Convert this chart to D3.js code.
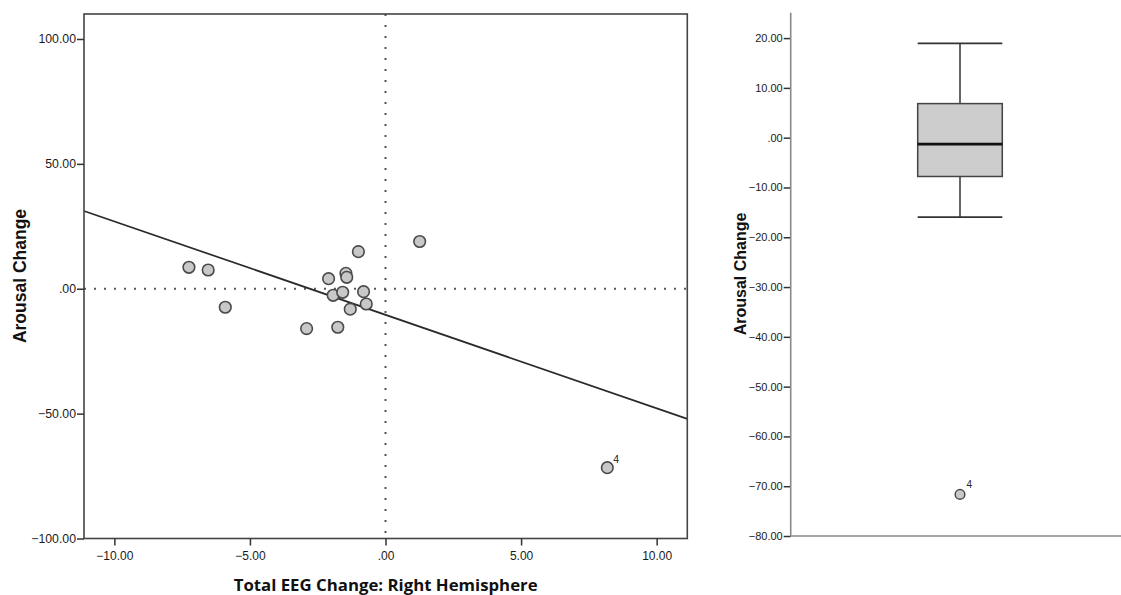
<!DOCTYPE html>
<html>
<head>
<meta charset="utf-8">
<script src="https://cdn.jsdelivr.net/npm/d3@7"></script>
<style>
  html, body { margin: 0; padding: 0; background: #fff; }
  svg { display: block; }
  .tick text { font-family: 'Liberation Sans', Arial, sans-serif; fill: #1a1a1a; }
  .tick line { stroke: #333; stroke-width: 1.5; }
  .domain { display: none; }
</style>
</head>
<body>
<div class="visualization"></div>
<script>
'use strict'
// Total EEG change (right hemisphere) and arousal change, one entry per case
var eegChange = [-7.25, -6.54, -5.91, -2.91, -2.10, -1.93, -1.76, -1.58, -1.46, -1.43, -1.30, -1.00, -0.81, -0.71, 1.26, 8.18]
var arousalChange = [8.59, 7.51, -7.42, -15.96, 4.02, -2.62, -15.42, -1.42, 6.18, 4.58, -8.17, 14.85, -1.18, -6.11, 18.92, -71.65]
var caseLabels = ['', '', '', '', '', '', '', '', '', '', '', '', '', '', '', '4']

var scatterXTicks = [-10, -5, 0, 5, 10]
var scatterYTicks = [-100, -50, 0, 50, 100]
var boxYTicks = [-80, -70, -60, -50, -40, -30, -20, -10, 0, 10, 20]

var width = 1121
var height = 595

// SPSS style labels: .00, -50.00
var fmt = function (v) {
  return d3.format('.2f')(v).replace(/^(-?)0\./, '$1.')
}

var svg = d3.select('.visualization').append('svg')
  .attr('width', width)
  .attr('height', height)

var points = eegChange.map(function (x, i) {
  return { x: x, y: arousalChange[i], label: caseLabels[i] }
})

// ---------- scatter ----------
var x = d3.scaleLinear().domain([-11.12, 11.13]).range([84, 687.3])
var y = d3.scaleLinear().domain([-100, 110]).range([538.5, 14])

var plot = svg.append('g')

// reference lines at zero
plot.append('line')
  .attr('x1', x.range()[0]).attr('x2', x.range()[1])
  .attr('y1', y(0)).attr('y2', y(0))
  .attr('stroke', '#555').attr('stroke-width', 2)
  .attr('stroke-dasharray', '2,8')
plot.append('line')
  .attr('x1', x(0)).attr('x2', x(0))
  .attr('y1', y.range()[1]).attr('y2', y.range()[0])
  .attr('stroke', '#555').attr('stroke-width', 2)
  .attr('stroke-dasharray', '2,9')

// least squares fit line
var mx = d3.mean(points, function (d) { return d.x })
var my = d3.mean(points, function (d) { return d.y })
var sxy = d3.sum(points, function (d) { return (d.x - mx) * (d.y - my) })
var sxx = d3.sum(points, function (d) { return (d.x - mx) * (d.x - mx) })
var slope = sxy / sxx
var intercept = my - slope * mx
var xd = x.domain()
plot.append('line')
  .attr('x1', x(xd[0])).attr('y1', y(intercept + slope * xd[0]))
  .attr('x2', x(xd[1])).attr('y2', y(intercept + slope * xd[1]))
  .attr('stroke', '#2a2a2a').attr('stroke-width', 1.7)

plot.append('g').selectAll('circle')
  .data(points)
  .enter().append('circle')
  .attr('cx', function (d) { return x(d.x) })
  .attr('cy', function (d) { return y(d.y) })
  .attr('r', 5.8)
  .attr('fill', '#c8c8c8')
  .attr('stroke', '#4a4a4a')
  .attr('stroke-width', 1.6)

plot.append('g').selectAll('text')
  .data(points.filter(function (d) { return d.label }))
  .enter().append('text')
  .attr('x', function (d) { return x(d.x) + 6 })
  .attr('y', function (d) { return y(d.y) - 5 })
  .attr('font-family', 'Liberation Sans, Arial, sans-serif')
  .attr('font-size', 10.5)
  .attr('fill', '#222')
  .text(function (d) { return d.label })

// frame
plot.append('rect')
  .attr('x', x.range()[0]).attr('y', y.range()[1])
  .attr('width', x.range()[1] - x.range()[0])
  .attr('height', y.range()[0] - y.range()[1])
  .attr('fill', 'none').attr('stroke', '#444').attr('stroke-width', 1.6)

var xAxis = plot.append('g')
  .attr('transform', 'translate(0,' + y.range()[0] + ')')
  .call(d3.axisBottom(x).tickValues(scatterXTicks).tickFormat(fmt).tickSize(7).tickSizeOuter(0).tickPadding(6))
xAxis.selectAll('text').attr('font-size', 12)

var yAxis = plot.append('g')
  .attr('transform', 'translate(' + x.range()[0] + ',0)')
  .call(d3.axisLeft(y).tickValues(scatterYTicks).tickFormat(fmt).tickSize(7).tickSizeOuter(0).tickPadding(1))
yAxis.selectAll('text').attr('font-size', 12.3)

plot.append('text')
  .attr('x', (x.range()[0] + x.range()[1]) / 2)
  .attr('y', 590.5)
  .attr('text-anchor', 'middle')
  .attr('font-family', 'Open Sans, sans-serif')
  .attr('font-weight', 'bold')
  .attr('font-size', 16.8)
  .attr('fill', '#111')
  .text('Total EEG Change: Right Hemisphere')

plot.append('text')
  .attr('transform', 'translate(26,276)rotate(-90)')
  .attr('text-anchor', 'middle')
  .attr('font-family', 'Liberation Sans, Arial, sans-serif')
  .attr('font-weight', 'bold')
  .attr('font-size', 17.5)
  .attr('fill', '#111')
  .text('Arousal Change')

// ---------- boxplot ----------
var by = d3.scaleLinear().domain([-80, 25.1]).range([536, 12.7])
var axisX = 790.7
var boxCenter = 960
var boxHalf = 42.3

var sorted = arousalChange.slice().sort(d3.ascending)
var half = Math.floor(sorted.length / 2)
var median = d3.median(sorted)
var q1 = d3.median(sorted.slice(0, half))
var q3 = d3.median(sorted.slice(sorted.length - half))
var iqr = q3 - q1
var inside = sorted.filter(function (v) { return v >= q1 - 1.5 * iqr && v <= q3 + 1.5 * iqr })
var lowWhisker = d3.min(inside)
var highWhisker = d3.max(inside)
var outliers = points.filter(function (d) { return d.y < lowWhisker || d.y > highWhisker })

var box = svg.append('g')

box.append('line')
  .attr('x1', boxCenter).attr('x2', boxCenter)
  .attr('y1', by(highWhisker)).attr('y2', by(lowWhisker))
  .attr('stroke', '#333').attr('stroke-width', 1.5)

box.selectAll('.cap')
  .data([lowWhisker, highWhisker])
  .enter().append('line')
  .attr('class', 'cap')
  .attr('x1', boxCenter - boxHalf).attr('x2', boxCenter + boxHalf)
  .attr('y1', function (d) { return by(d) }).attr('y2', function (d) { return by(d) })
  .attr('stroke', '#333').attr('stroke-width', 1.8)

box.append('rect')
  .attr('x', boxCenter - boxHalf).attr('width', boxHalf * 2)
  .attr('y', by(q3)).attr('height', by(q1) - by(q3))
  .attr('fill', '#cdcdcd').attr('stroke', '#444').attr('stroke-width', 1.5)

box.append('line')
  .attr('x1', boxCenter - boxHalf).attr('x2', boxCenter + boxHalf)
  .attr('y1', by(median)).attr('y2', by(median))
  .attr('stroke', '#111').attr('stroke-width', 2.6)

box.selectAll('.outlier')
  .data(outliers)
  .enter().append('circle')
  .attr('class', 'outlier')
  .attr('cx', boxCenter).attr('cy', function (d) { return by(d.y) })
  .attr('r', 4.8)
  .attr('fill', '#c8c8c8').attr('stroke', '#4a4a4a').attr('stroke-width', 1.5)

box.selectAll('.outlier-label')
  .data(outliers)
  .enter().append('text')
  .attr('class', 'outlier-label')
  .attr('x', boxCenter + 6.5).attr('y', function (d) { return by(d.y) - 6 })
  .attr('font-family', 'Liberation Sans, Arial, sans-serif')
  .attr('font-size', 10)
  .attr('fill', '#222')
  .text(function (d) { return d.label })

var bAxis = box.append('g')
  .attr('transform', 'translate(' + axisX + ',0)')
  .call(d3.axisLeft(by).tickValues(boxYTicks).tickFormat(fmt).tickSize(7).tickSizeOuter(0).tickPadding(1))
bAxis.selectAll('text').attr('font-size', 11)

// axis lines
box.append('line')
  .attr('x1', axisX).attr('x2', axisX)
  .attr('y1', by.range()[1]).attr('y2', by.range()[0])
  .attr('stroke', '#888').attr('stroke-width', 1.6)
box.append('line')
  .attr('x1', axisX).attr('x2', width)
  .attr('y1', by.range()[0]).attr('y2', by.range()[0])
  .attr('stroke', '#888').attr('stroke-width', 1.6)

box.append('text')
  .attr('transform', 'translate(746,274)rotate(-90)')
  .attr('text-anchor', 'middle')
  .attr('font-family', 'Liberation Sans, Arial, sans-serif')
  .attr('font-weight', 'bold')
  .attr('font-size', 16)
  .attr('fill', '#111')
  .text('Arousal Change')
</script>
</body>
</html>
